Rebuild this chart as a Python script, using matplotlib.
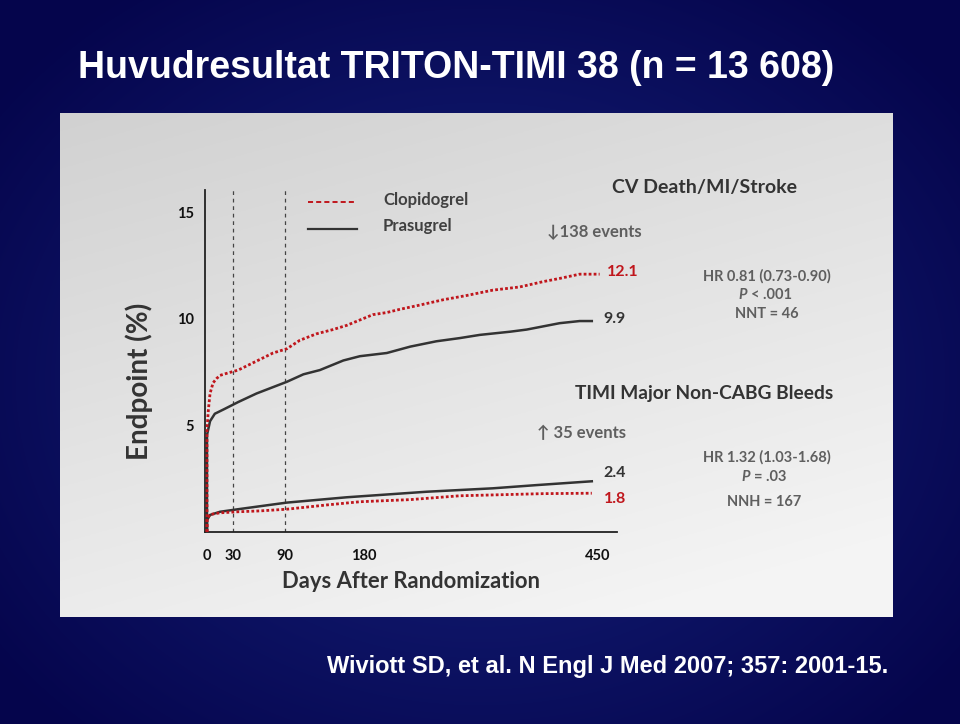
import numpy as np
import matplotlib.pyplot as plt
from matplotlib.lines import Line2D

W, H = 960, 724

# CV death/MI/stroke (cumulative %)
eff_days_clop = [0, 0, 1.5, 3.5, 7, 11, 15, 23, 36, 46, 61, 76, 92, 107, 126, 145, 161,
                 176, 191, 207, 222, 245, 272, 299, 329, 360, 387, 406, 429, 452]
eff_clop = [0, 4.8, 5.7, 6.5, 7.0, 7.2, 7.35, 7.45, 7.6, 7.8, 8.1, 8.4, 8.6, 9.0, 9.3, 9.5, 9.7,
            9.95, 10.2, 10.3, 10.45, 10.65, 10.9, 11.1, 11.35, 11.5, 11.75, 11.9, 12.1, 12.1]
eff_days_pras = [0, 0, 3.5, 9, 19, 36, 57, 92, 111, 130, 157, 176, 207, 234, 264, 291, 314,
                 349, 368, 387, 406, 429, 443]
eff_pras = [0, 4.55, 5.2, 5.55, 5.75, 6.1, 6.5, 7.05, 7.4, 7.6, 8.05, 8.25, 8.4, 8.7, 8.95, 9.1,
            9.25, 9.4, 9.5, 9.65, 9.8, 9.9, 9.9]

# TIMI major non-CABG bleeds
bleed_days_clop = [0, 0, 3.5, 15, 36, 61, 92, 138, 176, 234, 291, 387, 443]
bleed_clop = [0, 0.62, 0.82, 0.9, 0.95, 0.99, 1.07, 1.27, 1.42, 1.52, 1.7, 1.8, 1.82]
bleed_days_pras = [0, 0, 3.5, 15, 36, 72, 92, 161, 253, 329, 379, 443]
bleed_pras = [0, 0.56, 0.8, 0.95, 1.07, 1.27, 1.38, 1.63, 1.89, 2.05, 2.2, 2.38]

xticks = [0, 30, 90, 180, 450]
yticks = [5, 10, 15]
landmarks = [30, 90]

RED = '#c0161c'
DARK = '#333333'
GRAY = '#5f5f5f'
FONT = ['Lato', 'DejaVu Sans']

fig = plt.figure(figsize=(9.6, 7.24), dpi=100)


def px(x, y):
    return x / W, 1 - y / H


def ftext(x, y, s, **kw):
    kw.setdefault('family', FONT)
    kw.setdefault('va', 'center')
    fig.text(*px(x, y), s, **kw)


# navy slide background with a lighter centre
bg = fig.add_axes([0, 0, 1, 1])
yy, xx = np.mgrid[0:H, 0:W]
r = np.sqrt(((xx - 480) / 600) ** 2 + ((yy - 380) / 480) ** 2)
r = np.clip(r, 0, 1)[..., None]
inner = np.array([0.09, 0.14, 0.50])
outer = np.array([0.02, 0.02, 0.30])
bg.imshow(inner * (1 - r) + outer * r, extent=[0, W, H, 0], aspect='auto')
bg.set_xlim(0, W)
bg.set_ylim(H, 0)
bg.axis('off')

# light grey panel
pl, pr, pt, pb = 60, 893, 113, 617
panel = fig.add_axes([pl / W, 1 - pb / H, (pr - pl) / W, (pb - pt) / H])
gy, gx = np.mgrid[0:1:200j, 0:1:300j]
t = np.clip(0.75 * gy + 0.35 * gx, 0, 1)[..., None]
top = np.array([0.82, 0.82, 0.82])
bot = np.array([0.96, 0.96, 0.96])
panel.imshow(top * (1 - t) + bot * t, extent=[0, 1, 1, 0], aspect='auto')
panel.axis('off')

# main chart axes
ax = fig.add_axes([205 / W, 1 - 532 / H, (617 - 205) / W, (532 - 190) / H])
ax.patch.set_alpha(0)
ax.set_xlim(-2.3, 472)
ax.set_ylim(0, 16.05)

for d in landmarks:
    ax.axvline(d, color='#444444', lw=0.9, ls=(0, (3, 3)), zorder=1)

ax.plot(eff_days_pras, eff_pras, color=DARK, lw=1.8, zorder=3)
ax.plot(eff_days_clop, eff_clop, color=RED, lw=2.0, ls=(0, (1, 0.8)), zorder=4)
ax.plot(bleed_days_pras, bleed_pras, color=DARK, lw=1.8, zorder=3)
ax.plot(bleed_days_clop, bleed_clop, color=RED, lw=2.0, ls=(0, (1, 0.8)), zorder=4)

for s in ['top', 'right']:
    ax.spines[s].set_visible(False)
for s in ['left', 'bottom']:
    ax.spines[s].set_color('#222222')
    ax.spines[s].set_linewidth(1.3)

ax.set_xticks(xticks)
ax.set_xticklabels([str(v) for v in xticks])
ax.set_yticks(yticks)
ax.set_yticklabels([str(v) for v in yticks])
ax.tick_params(length=0, labelsize=10.5, labelcolor='#111111')
for lab in ax.get_xticklabels() + ax.get_yticklabels():
    lab.set_fontfamily(FONT)
    lab.set_fontweight('bold')
ax.tick_params(axis='x', pad=12)
ax.tick_params(axis='y', pad=8)

# legend
fig.add_artist(Line2D([308 / W, 357 / W], [1 - 202 / H] * 2, color=RED, lw=1.4, ls=(0, (2.6, 1.6))))
fig.add_artist(Line2D([308 / W, 357 / W], [1 - 229 / H] * 2, color=DARK, lw=1.6))
ftext(383, 200, 'Clopidogrel', fontsize=12, weight='bold', color='#404040')
ftext(383, 226, 'Prasugrel', fontsize=12, weight='bold', color='#404040')

# annotations
ftext(704, 188, 'CV Death/MI/Stroke', fontsize=14, weight='bold', color=DARK, ha='center')
ftext(547, 232, '\u2193138 events', fontsize=12, weight='bold', color=GRAY)
ftext(623, 272, '12.1', fontsize=11.5, weight='bold', color=RED, ha='center')
ftext(614, 319, '9.9', fontsize=11.5, weight='bold', color=DARK, ha='center')
ftext(767, 276, 'HR 0.81 (0.73-0.90)', fontsize=10.5, weight='bold', color=GRAY, ha='center')
ftext(747, 295, 'P', fontsize=10.5, weight='bold', style='italic', color=GRAY, ha='right')
ftext(751, 295, '< .001', fontsize=10.5, weight='bold', color=GRAY, ha='left')
ftext(767, 314, 'NNT = 46', fontsize=10.5, weight='bold', color=GRAY, ha='center')

ftext(704, 394, 'TIMI Major Non-CABG Bleeds', fontsize=13.8, weight='bold', color=DARK, ha='center')
ftext(537, 433, '\u2191 35 events', fontsize=12, weight='bold', color=GRAY)
ftext(615, 473, '2.4', fontsize=11.5, weight='bold', color=DARK, ha='center')
ftext(615, 499, '1.8', fontsize=11.5, weight='bold', color=RED, ha='center')
ftext(767, 457, 'HR 1.32 (1.03-1.68)', fontsize=10.5, weight='bold', color=GRAY, ha='center')
ftext(750, 477, 'P', fontsize=10.5, weight='bold', style='italic', color=GRAY, ha='right')
ftext(754, 477, '= .03', fontsize=10.5, weight='bold', color=GRAY, ha='left')
ftext(764, 502, 'NNH = 167', fontsize=10.5, weight='bold', color=GRAY, ha='center')

ftext(411, 581, 'Days After Randomization', fontsize=15.8, weight='bold', color=DARK, ha='center')
ftext(139, 381, 'Endpoint (%)', fontsize=20, weight='bold', color=DARK, ha='center', rotation=90)

# slide title and reference
TITLE_FONT = ['Liberation Sans Narrow', 'Liberation Sans', 'DejaVu Sans']
ftext(78, 68, 'Huvudresultat TRITON-TIMI 38 (n = 13 608)', fontsize=27, weight='bold',
      color='white', family=TITLE_FONT)
ftext(327, 667, 'Wiviott SD, et al. N Engl J Med 2007; 357: 2001-15.', fontsize=17,
      weight='bold', color='white', family=TITLE_FONT)

plt.savefig('out.png', dpi=100)
